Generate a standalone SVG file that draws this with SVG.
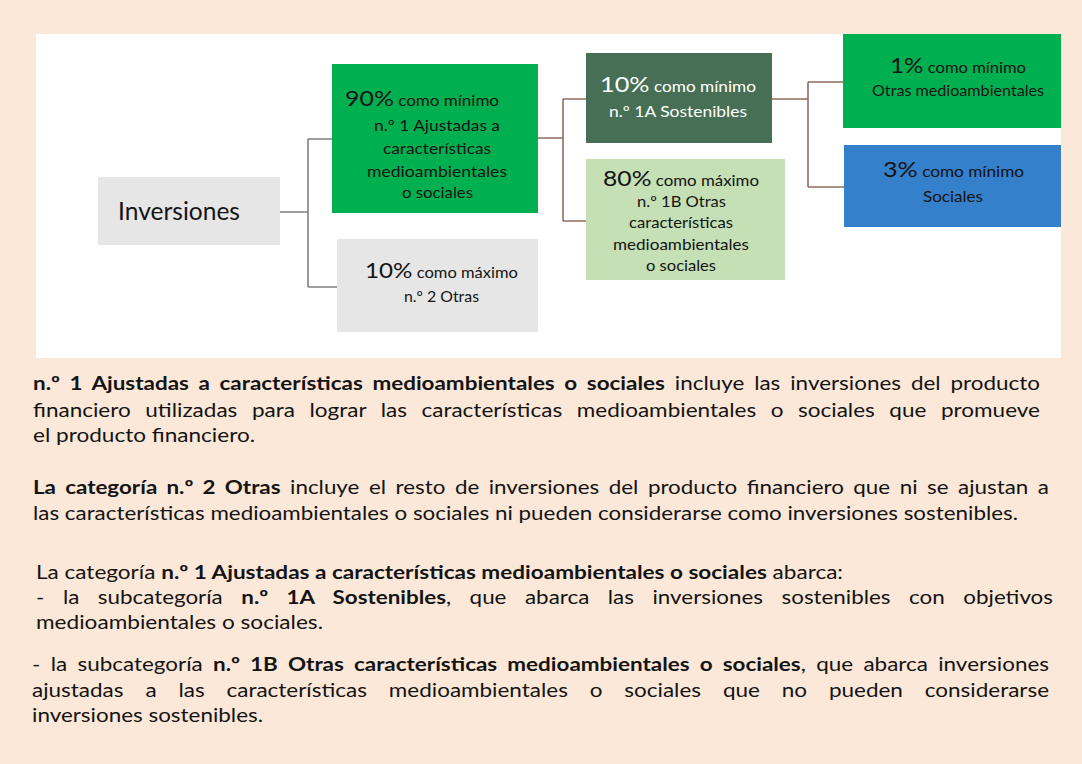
<svg xmlns="http://www.w3.org/2000/svg" width="1082" height="764" viewBox="0 0 1082 764">
<style>
.t{font-family:Lato,"Liberation Sans",sans-serif;fill:#141414}
.w{fill:#ffffff}
.body{font-size:19.5px}
.b{font-weight:700}
.big{font-size:22px}
.sm{font-size:15px}
.conn{fill:none;stroke-width:1.6}
.g1{stroke:#808080}
.g2{stroke:#8f6e5f}
</style>
<rect x="0" y="0" width="1082" height="764" fill="#fbe8d8"/>
<rect x="36" y="34" width="1025" height="324" fill="#ffffff"/>
<g id="connectors">
<path class="conn g1" d="M280,212 H308 M308,139 V287 M308,139 H332 M308,287 H337"/>
<path class="conn g2" d="M538,138 H563 M563,99 V221 M563,99 H586 M563,221 H586"/>
<path class="conn g2" d="M772,99 H808 M808,82 V187 M808,82 H843 M808,187 H844"/>
</g>
<g id="inversiones">
<rect x="98" y="177" width="182" height="68" fill="#e7e6e6"/>
<text class="t" x="118" y="220" font-size="25" textLength="122" lengthAdjust="spacingAndGlyphs">Inversiones</text>
</g>
<g id="n1">
<rect x="332" y="64" width="206" height="149" fill="#00b050"/>
<text class="t" x="345" y="106" textLength="154" lengthAdjust="spacingAndGlyphs"><tspan class="big">90%</tspan><tspan class="sm"> como mínimo</tspan></text>
<text class="t sm" x="374" y="131" textLength="126" lengthAdjust="spacingAndGlyphs">n.º 1 Ajustadas a</text>
<text class="t sm" x="383" y="154" textLength="108" lengthAdjust="spacingAndGlyphs">características</text>
<text class="t sm" x="367" y="177" textLength="140" lengthAdjust="spacingAndGlyphs">medioambientales</text>
<text class="t sm" x="402" y="198" textLength="71" lengthAdjust="spacingAndGlyphs">o sociales</text>
</g>
<g id="n2">
<rect x="337" y="239" width="201" height="93" fill="#e7e6e6"/>
<text class="t" x="365" y="278" textLength="153" lengthAdjust="spacingAndGlyphs"><tspan class="big">10%</tspan><tspan class="sm"> como máximo</tspan></text>
<text class="t sm" x="404" y="302" textLength="75" lengthAdjust="spacingAndGlyphs">n.º 2 Otras</text>
</g>
<g id="n1a">
<rect x="586" y="53" width="186" height="90" fill="#466f55"/>
<text class="t w" x="600" y="92" textLength="156" lengthAdjust="spacingAndGlyphs"><tspan class="big">10%</tspan><tspan class="sm"> como mínimo</tspan></text>
<text class="t w sm" x="609" y="117" textLength="138" lengthAdjust="spacingAndGlyphs">n.º 1A Sostenibles</text>
</g>
<g id="n1b">
<rect x="586" y="159" width="199" height="121" fill="#c5e0b4"/>
<text class="t" x="603" y="186" textLength="156" lengthAdjust="spacingAndGlyphs"><tspan class="big">80%</tspan><tspan class="sm"> como máximo</tspan></text>
<text class="t sm" x="637" y="207" textLength="89" lengthAdjust="spacingAndGlyphs">n.º 1B Otras</text>
<text class="t sm" x="629" y="228" textLength="104" lengthAdjust="spacingAndGlyphs">características</text>
<text class="t sm" x="613" y="250" textLength="136" lengthAdjust="spacingAndGlyphs">medioambientales</text>
<text class="t sm" x="646" y="271" textLength="70" lengthAdjust="spacingAndGlyphs">o sociales</text>
</g>
<g id="otras-medioambientales">
<rect x="843" y="34" width="218" height="94" fill="#00b050"/>
<text class="t" x="890" y="73" textLength="136" lengthAdjust="spacingAndGlyphs"><tspan class="big">1%</tspan><tspan class="sm"> como mínimo</tspan></text>
<text class="t sm" x="872" y="96" textLength="172" lengthAdjust="spacingAndGlyphs">Otras medioambientales</text>
</g>
<g id="sociales">
<rect x="844" y="145" width="217" height="82" fill="#3480ca"/>
<text class="t" x="883" y="177" textLength="141" lengthAdjust="spacingAndGlyphs"><tspan class="big">3%</tspan><tspan class="sm"> como mínimo</tspan></text>
<text class="t sm" x="923" y="202" textLength="60" lengthAdjust="spacingAndGlyphs">Sociales</text>
</g>
<g id="texto">
<text class="t body" x="33" y="390" textLength="1007" lengthAdjust="spacingAndGlyphs" word-spacing="3.6"><tspan class="b">n.º 1 Ajustadas a características medioambientales o sociales</tspan> incluye las inversiones del producto</text>
<text class="t body" x="33" y="417" textLength="1007" lengthAdjust="spacingAndGlyphs" word-spacing="7.6">financiero utilizadas para lograr las características medioambientales o sociales que promueve</text>
<text class="t body" x="33" y="442" textLength="222" lengthAdjust="spacingAndGlyphs">el producto financiero.</text>
<text class="t body" x="33" y="494" textLength="1016" lengthAdjust="spacingAndGlyphs" word-spacing="3.3"><tspan class="b">La categoría n.º 2 Otras</tspan> incluye el resto de inversiones del producto financiero que ni se ajustan a</text>
<text class="t body" x="33" y="520" textLength="985" lengthAdjust="spacingAndGlyphs">las características medioambientales o sociales ni pueden considerarse como inversiones sostenibles.</text>
<text class="t body" x="36" y="579" textLength="807" lengthAdjust="spacingAndGlyphs">La categoría <tspan class="b">n.º 1 Ajustadas a características medioambientales o sociales</tspan> abarca:</text>
<text class="t body" x="36" y="604" textLength="1017" lengthAdjust="spacingAndGlyphs" word-spacing="11.2">- la subcategoría <tspan class="b">n.º 1A Sostenibles</tspan>, que abarca las inversiones sostenibles con objetivos</text>
<text class="t body" x="36" y="629" textLength="287" lengthAdjust="spacingAndGlyphs">medioambientales o sociales.</text>
<text class="t body" x="32" y="671" textLength="1017" lengthAdjust="spacingAndGlyphs" word-spacing="4">- la subcategoría <tspan class="b">n.º 1B Otras características medioambientales o sociales</tspan>, que abarca inversiones</text>
<text class="t body" x="32" y="697" textLength="1017" lengthAdjust="spacingAndGlyphs" word-spacing="14">ajustadas a las características medioambientales o sociales que no pueden considerarse</text>
<text class="t body" x="32" y="722" textLength="231" lengthAdjust="spacingAndGlyphs">inversiones sostenibles.</text>
</g>
</svg>
